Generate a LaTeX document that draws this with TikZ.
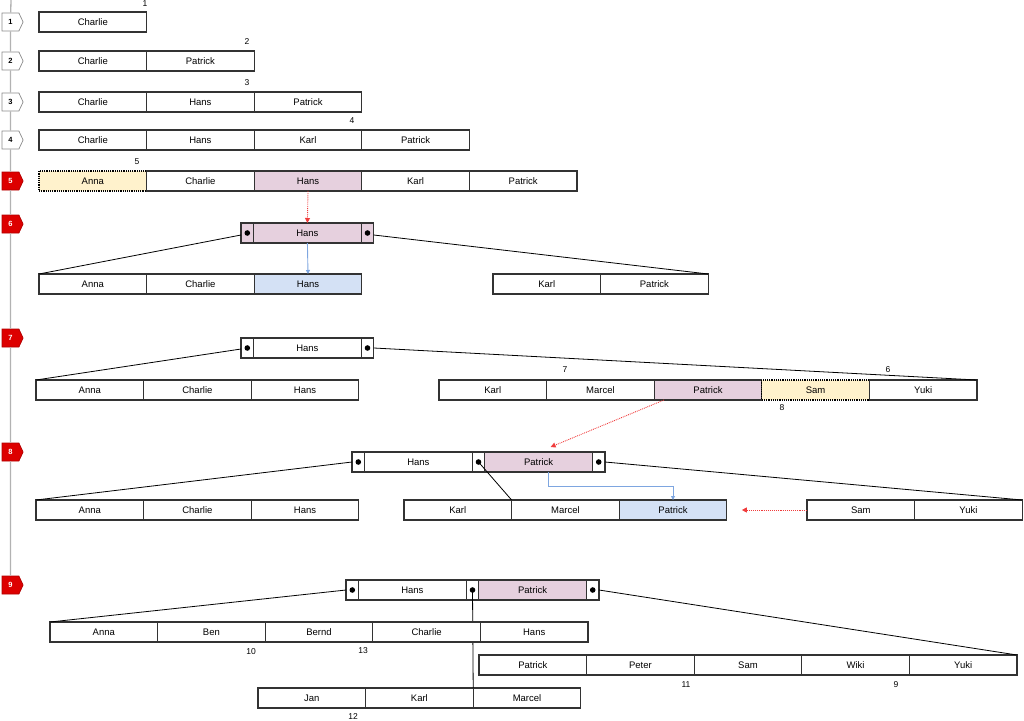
\documentclass[tikz,border=0pt]{standalone}
\usepackage{fontspec}
\setmainfont{Liberation Sans}
\usetikzlibrary{positioning,shapes.symbols,arrows.meta}

\definecolor{hlpink}{HTML}{E6D0DE}
\definecolor{inyellow}{HTML}{FFF2CC}
\definecolor{foundblue}{HTML}{D4E1F5}
\definecolor{stepred}{HTML}{DD0000}
\definecolor{redarrow}{HTML}{F03C3C}
\definecolor{bluearrow}{HTML}{7EA6E0}

\tikzset{
  cell/.style={draw=black!80, line width=1.2pt, fill=white, minimum width=107.6pt,
    minimum height=20pt, inner sep=0pt, outer sep=0pt, font=\fontsize{9.5}{10}\selectfont},
  ptr/.style={cell, minimum width=12.6pt},
  hl/.style={fill=hlpink},
  ins/.style={fill=inyellow, densely dotted, draw=black},
  found/.style={fill=foundblue},
  num/.style={inner sep=0pt, font=\fontsize{8.5}{9}\selectfont},
  stepmark/.style={signal, signal to=east, signal pointer angle=130, minimum width=21pt,
    minimum height=18pt, inner sep=0pt, draw=black!45, fill=white, line width=0.7pt,
    font=\fontsize{7.5}{8}\bfseries},
  stepred/.style={stepmark, fill=stepred, draw=stepred!80!black, text=white},
  link/.style={black, line width=0.8pt},
  moveline/.style={redarrow, line width=0.9pt, densely dotted, -{Triangle[length=5pt,width=5pt]}},
  findline/.style={bluearrow, line width=0.9pt, -{Triangle[length=4pt,width=4pt]}},
  ptrdot/.style={fill=black}
}

\begin{document}
\begin{tikzpicture}[x=1pt, y=-1pt]
  \useasboundingbox (0,0) rectangle (1024,720);

  % Zeitleiste
  \coordinate (top) at (11,0);
  \node[stepmark] (m1) at (10.5,22) {1};
  \node[stepmark] (m2) at (10.5,61) {2};
  \node[stepmark] (m3) at (10.5,102) {3};
  \node[stepmark] (m4) at (10.5,140) {4};
  \node[stepred] (m5) at (10.5,181) {5};
  \node[stepred] (m6) at (10.5,224) {6};
  \node[stepred] (m7) at (10.5,338) {7};
  \node[stepred] (m8) at (10.5,452) {8};
  \node[stepred] (m9) at (10.5,585) {9};
  \draw[black!30, line width=1.3pt] (top) -- (m1) (m1) -- (m2) (m2) -- (m3) (m3) -- (m4)
    (m4) -- (m5) (m5) -- (m6) (m6) -- (m7) (m7) -- (m8) (m8) -- (m9);

  % Schritt 1-4
  \node[cell, anchor=west] (r1c1) at (39,22) {Charlie};
  \node[num] (n1) at (145,4) {1};

  \node[cell, anchor=west] (r2c1) at (39,61) {Charlie};
  \node[cell, right=0pt of r2c1] (r2c2) {Patrick};
  \node[num] (n2) at (247,42) {2};

  \node[cell, anchor=west] (r3c1) at (39,102) {Charlie};
  \node[cell, right=0pt of r3c1] (r3c2) {Hans};
  \node[cell, right=0pt of r3c2] (r3c3) {Patrick};
  \node[num] (n3) at (247,83) {3};

  \node[cell, anchor=west] (r4c1) at (39,140) {Charlie};
  \node[cell, right=0pt of r4c1] (r4c2) {Hans};
  \node[cell, right=0pt of r4c2] (r4c3) {Karl};
  \node[cell, right=0pt of r4c3] (r4c4) {Patrick};
  \node[num] (n4) at (352,121) {4};

  % Schritt 5: Blatt voll
  \node[cell, ins, anchor=west] (r5c1) at (39,181) {Anna};
  \node[cell, right=0pt of r5c1] (r5c2) {Charlie};
  \node[cell, hl, right=0pt of r5c2] (r5c3) {Hans};
  \node[cell, right=0pt of r5c3] (r5c4) {Karl};
  \node[cell, right=0pt of r5c4] (r5c5) {Patrick};
  \node[num] (n5) at (137,162) {5};

  % Schritt 6: Split
  \node[ptr, hl, anchor=west] (r6i1) at (241,233) {};
  \node[cell, hl, right=0pt of r6i1] (r6i2) {Hans};
  \node[ptr, hl, right=0pt of r6i2] (r6i3) {};
  \fill[ptrdot] (r6i1) circle (2.8pt);
  \fill[ptrdot] (r6i3) circle (2.8pt);
  \node[cell, anchor=west] (r6l1) at (39,284) {Anna};
  \node[cell, right=0pt of r6l1] (r6l2) {Charlie};
  \node[cell, found, right=0pt of r6l2] (r6l3) {Hans};
  \node[cell, anchor=west] (r6r1) at (493,284) {Karl};
  \node[cell, right=0pt of r6r1] (r6r2) {Patrick};
  \draw[link] ([yshift=-2pt]r6i1.west) -- (r6l1.north west);
  \draw[link] ([yshift=-2pt]r6i3.east) -- (r6r2.north east);
  \draw[moveline] (r5c3.south) -- (r6i2.north);
  \draw[findline] (r6i2.south) -- (r6l3.north);

  % Schritt 7
  \node[ptr, anchor=west] (r7i1) at (241,348) {};
  \node[cell, right=0pt of r7i1] (r7i2) {Hans};
  \node[ptr, right=0pt of r7i2] (r7i3) {};
  \fill[ptrdot] (r7i1) circle (2.8pt);
  \fill[ptrdot] (r7i3) circle (2.8pt);
  \node[cell, anchor=west] (r7l1) at (36,390) {Anna};
  \node[cell, right=0pt of r7l1] (r7l2) {Charlie};
  \node[cell, right=0pt of r7l2] (r7l3) {Hans};
  \node[cell, anchor=west] (r7r1) at (439,390) {Karl};
  \node[cell, right=0pt of r7r1] (r7r2) {Marcel};
  \node[cell, hl, right=0pt of r7r2] (r7r3) {Patrick};
  \node[cell, ins, right=0pt of r7r3] (r7r4) {Sam};
  \node[cell, right=0pt of r7r4] (r7r5) {Yuki};
  \node[num] (n7) at (565,370) {7};
  \node[num] (n6) at (888,370) {6};
  \node[num] (n8) at (782,408) {8};
  \draw[link] ([yshift=-1pt]r7i1.west) -- (r7l1.north west);
  \draw[link] (r7i3.east) -- (r7r5.north east);

  % Schritt 8
  \node[ptr, anchor=west] (r8i1) at (352,462) {};
  \node[cell, right=0pt of r8i1] (r8i2) {Hans};
  \node[ptr, right=0pt of r8i2] (r8i3) {};
  \node[cell, hl, right=0pt of r8i3] (r8i4) {Patrick};
  \node[ptr, right=0pt of r8i4] (r8i5) {};
  \fill[ptrdot] (r8i1) circle (2.8pt);
  \fill[ptrdot] (r8i3) circle (2.8pt);
  \fill[ptrdot] (r8i5) circle (2.8pt);
  \node[cell, anchor=west] (r8l1) at (36,510) {Anna};
  \node[cell, right=0pt of r8l1] (r8l2) {Charlie};
  \node[cell, right=0pt of r8l2] (r8l3) {Hans};
  \node[cell, anchor=west] (r8m1) at (404,510) {Karl};
  \node[cell, right=0pt of r8m1] (r8m2) {Marcel};
  \node[cell, found, right=0pt of r8m2] (r8m3) {Patrick};
  \node[cell, anchor=west] (r8r1) at (807,510) {Sam};
  \node[cell, right=0pt of r8r1] (r8r2) {Yuki};
  \draw[link] (r8i1.west) -- (r8l1.north west);
  \draw[link] (r8i3.center) -- (r8m1.north east);
  \draw[link] (r8i5.east) -- (r8r2.north east);
  \draw[moveline] ([xshift=-44pt]r7r3.south) -- ([xshift=12pt,yshift=5pt]r8i4.north);
  \draw[findline] ([xshift=10pt]r8i4.south) -- ++(0,14) -| (r8m3.north);
  \draw[moveline] (r8r1.west) -- ([xshift=15pt]r8m3.east);

  % Schritt 9
  \node[ptr, anchor=west] (r9i1) at (346,590) {};
  \node[cell, right=0pt of r9i1] (r9i2) {Hans};
  \node[ptr, right=0pt of r9i2] (r9i3) {};
  \node[cell, hl, right=0pt of r9i3] (r9i4) {Patrick};
  \node[ptr, right=0pt of r9i4] (r9i5) {};
  \fill[ptrdot] (r9i1) circle (2.8pt);
  \fill[ptrdot] (r9i3) circle (2.8pt);
  \fill[ptrdot] (r9i5) circle (2.8pt);
  \node[cell, anchor=west] (r9c1) at (258,698) {Jan};
  \node[cell, right=0pt of r9c1] (r9c2) {Karl};
  \node[cell, right=0pt of r9c2] (r9c3) {Marcel};
  \draw[link] (r9i3.center) -- (r9c2.north east);
  \node[cell, anchor=west] (r9a1) at (50,632) {Anna};
  \node[cell, right=0pt of r9a1] (r9a2) {Ben};
  \node[cell, right=0pt of r9a2] (r9a3) {Bernd};
  \node[cell, right=0pt of r9a3] (r9a4) {Charlie};
  \node[cell, right=0pt of r9a4] (r9a5) {Hans};
  \node[cell, anchor=west] (r9b1) at (479,665) {Patrick};
  \node[cell, right=0pt of r9b1] (r9b2) {Peter};
  \node[cell, right=0pt of r9b2] (r9b3) {Sam};
  \node[cell, right=0pt of r9b3] (r9b4) {Wiki};
  \node[cell, right=0pt of r9b4] (r9b5) {Yuki};
  \draw[link] (r9i1.west) -- (r9a1.north west);
  \draw[link] (r9i5.east) -- (r9b5.north east);
  \node[num] (n10) at (251,652) {10};
  \node[num] (n13) at (363,651) {13};
  \node[num] (n11) at (686,685) {11};
  \node[num] (n9) at (896,685) {9};
  \node[num] (n12) at (353,717) {12};
\end{tikzpicture}
\end{document}
